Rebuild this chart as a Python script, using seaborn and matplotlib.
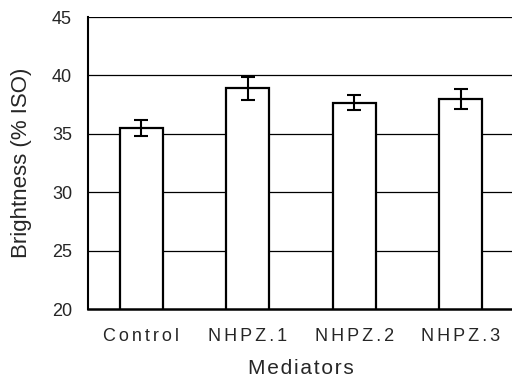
import matplotlib
matplotlib.use("Agg")
import matplotlib.pyplot as plt
import seaborn as sns
import numpy as np

categories = ["Control", "NHPZ.1", "NHPZ.2", "NHPZ.3"]
values = [35.5, 38.9, 37.65, 37.95]
errors = [0.65, 1.0, 0.65, 0.85]
yticks = [20, 25, 30, 35, 40, 45]

sns.set_theme(style="white")
plt.rcParams['font.family'] = ['Liberation Sans', 'DejaVu Sans']

def spaced(s, sp="\u200a"):
    return sp.join(s)

fig = plt.figure(figsize=(5.12, 3.8), dpi=100)
ax = fig.add_axes([88/512, 71/380, 426/512, 292/380])

ax.set_axisbelow(True)
for y in yticks[1:]:
    ax.axhline(y, color='black', lw=0.9, zorder=0)

sns.barplot(x=categories, y=values, color='white', edgecolor='black',
            linewidth=1.6, width=0.4, ax=ax, zorder=2)
ax.errorbar(np.arange(len(categories)), values, yerr=errors, fmt='none',
            ecolor='black', elinewidth=1.5, capsize=5, capthick=1.5, zorder=3)

ax.set_xlim(-0.5, 3.5)
ax.set_ylim(20, 45)
ax.set_yticks(yticks)
ax.set_xticks(range(len(categories)))
ax.set_xticklabels([spaced(c, "\u200a\u200a") for c in categories])
ax.tick_params(axis='y', length=0, pad=11.5, labelsize=13)
ax.tick_params(axis='x', length=0, pad=14, labelsize=13)
ax.set_xlabel(spaced("Mediators"), fontsize=15, labelpad=10)
ax.set_ylabel("Brightness (% ISO)", fontsize=16, labelpad=14)

for s in ['top', 'right']:
    ax.spines[s].set_visible(False)
ax.spines['left'].set_color('black')
ax.spines['left'].set_linewidth(1.5)
ax.spines['bottom'].set_color('black')
ax.spines['bottom'].set_linewidth(1.8)

fig.savefig("out.png", dpi=100)
